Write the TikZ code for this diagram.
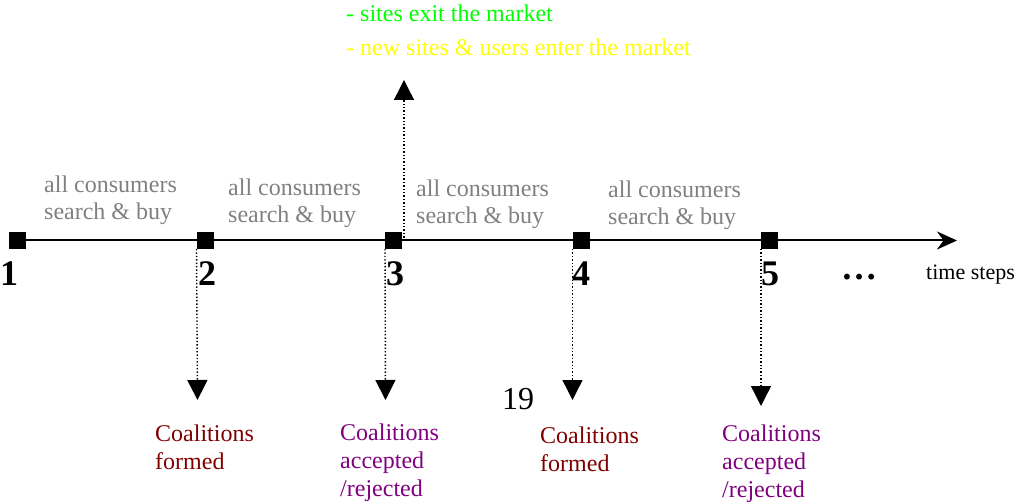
\documentclass[tikz,border=0pt]{standalone}
\usepackage{fontspec}
\setmainfont{Liberation Serif}
\usetikzlibrary{arrows.meta}
\definecolor{grtxt}{HTML}{808080}
\definecolor{cform}{HTML}{800000}
\definecolor{cacc}{HTML}{800080}
\definecolor{cexit}{HTML}{00FF00}
\definecolor{center}{HTML}{FFFF00}
\begin{document}
\begin{tikzpicture}[x=1pt,y=-1pt,
  tstep/.style={fill=black,minimum size=17pt,inner sep=0pt,outer sep=0pt},
  num/.style={anchor=base,inner sep=0pt,font=\fontsize{36}{40}\selectfont\bfseries},
  lbl/.style={anchor=base west,inner sep=0pt,align=left},
  gtxt/.style={lbl,text=grtxt,font=\fontsize{24}{27}\selectfont},
  ctxt/.style={lbl,font=\fontsize{24}{28}\selectfont},
  dotarrow/.style={line width=1.4pt,dotted,-{Triangle[length=20pt,width=20pt]}},
]
\useasboundingbox (0,0) rectangle (1025,502);
% time steps
\node[tstep] (t1) at (17,240.5) {};
\node[tstep] (t2) at (205,240.5) {};
\node[tstep] (t3) at (393.5,240.5) {};
\node[tstep] (t4) at (581,240.5) {};
\node[tstep] (t5) at (769.5,240.5) {};
\coordinate (tend) at (957,240.5);
\draw[line width=2pt] (t1) -- (t2) -- (t3) -- (t4) -- (t5);
\draw[line width=2pt,-{Stealth[length=20pt,width=18pt]}] (t5) -- (tend);
% numbers
\node[num] (n1) at (9,285.5) {1};
\node[num] (n2) at (207,285.5) {2};
\node[num] (n3) at (395,285.5) {3};
\node[num] (n4) at (581,285.5) {4};
\node[num] (n5) at (770,285.5) {5};
\node[num] (dots) at (859,280) {\ldots};
\node[anchor=base west,inner sep=0pt,font=\fontsize{22}{26}\selectfont] (ts) at (926,279.5) {time steps};
% gray texts (anchor at baseline of last line)
\node[gtxt] (g1) at (44,220) {all consumers\\search \& buy};
\node[gtxt] (g2) at (228,223) {all consumers\\search \& buy};
\node[gtxt] (g3) at (416,224) {all consumers\\search \& buy};
\node[gtxt] (g4) at (608,225) {all consumers\\search \& buy};
% top texts
\node[lbl,text=cexit,font=\fontsize{24}{28}\selectfont] (ex) at (346,22) {- sites exit the market};
\node[lbl,text=center,font=\fontsize{24}{28}\selectfont] (en) at (346,56) {- new sites \& users enter the market};
% up arrow
\coordinate (u3a) at (404,241);
\coordinate (u3b) at (404,80);
\draw[dotarrow] (u3a) -- (u3b);
% down arrows
\coordinate (d2) at (197.5,400);
\coordinate (d3) at (385.5,400);
\coordinate (d4) at (572.5,400);
\coordinate (d5) at (761,406);
\draw[dotarrow] (t2.south west) -- (d2);
\draw[dotarrow] (t3.south west) -- (d3);
\draw[dotarrow] (t4.south west) -- (d4);
\draw[dotarrow] (t5.south west) -- (d5);
% labels (anchor at baseline of last line)
\node[ctxt,text=cform] (c2) at (155,469) {Coalitions\\formed};
\node[ctxt,text=cacc] (c3) at (340,496) {Coalitions\\accepted\\/rejected};
\node[ctxt,text=cform] (c4) at (540,471) {Coalitions\\formed};
\node[ctxt,text=cacc] (c5) at (722,497) {Coalitions\\accepted\\/rejected};
\node[anchor=base west,inner sep=0pt,font=\fontsize{32}{36}\selectfont] (pg) at (502,409) {19};
\end{tikzpicture}
\end{document}
